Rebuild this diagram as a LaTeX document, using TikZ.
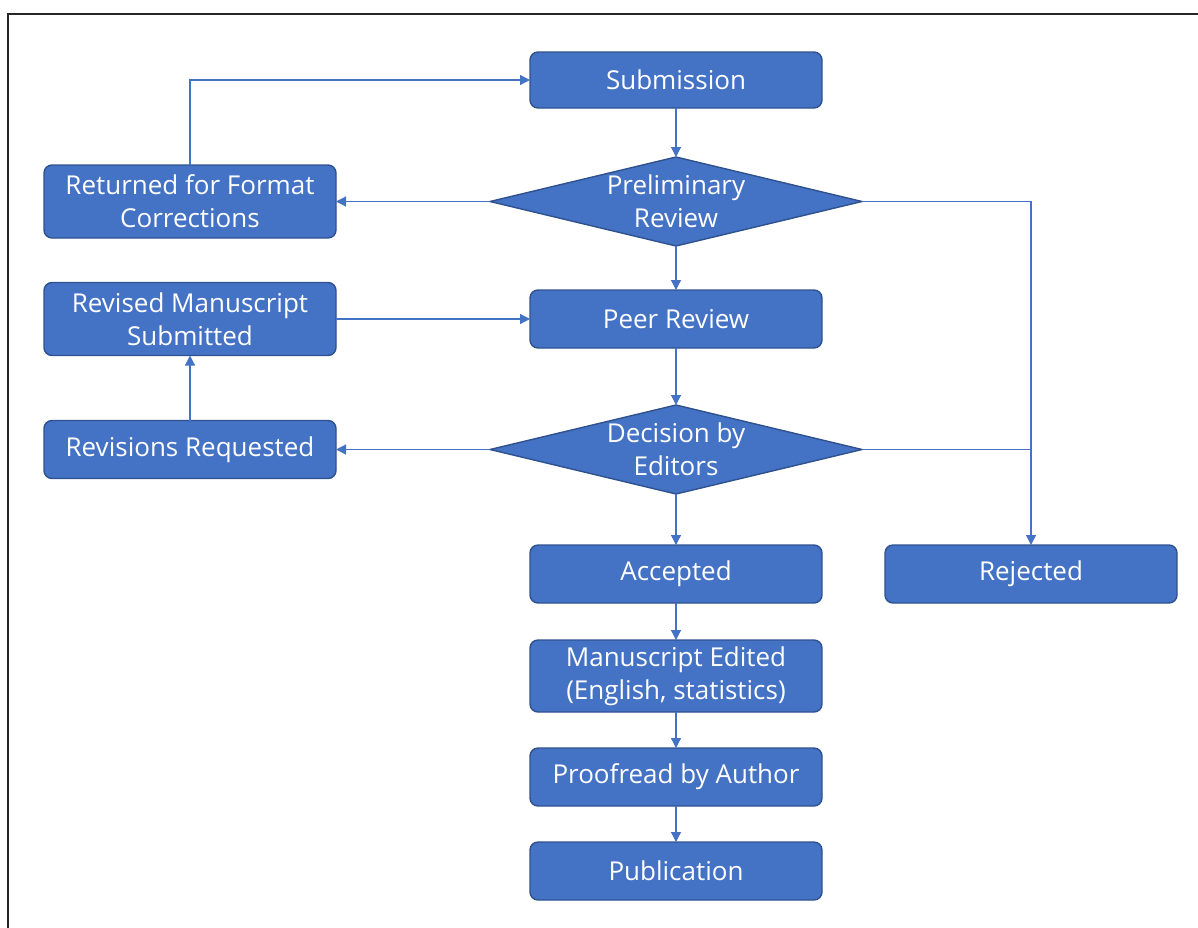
\documentclass[tikz,border=0pt]{standalone}
\usepackage{fontspec}
\setmainfont{Open Sans}
\usepackage{tikz}
\usetikzlibrary{positioning, arrows.meta}
\usetikzlibrary{shapes,shapes.geometric}

\definecolor{boxblue}{HTML}{4472C4}
\definecolor{boxedge}{HTML}{2F528F}

\tikzset{
	stagebox/.style={rectangle, rounded corners=8pt, draw=boxedge, line width=1.4pt, fill=boxblue,
		text=white, align=center, minimum width=292pt, minimum height=58pt, inner sep=2pt, outer sep=0pt,
		font=\fontsize{26}{33}\selectfont},
	decide/.style={diamond, draw=boxedge, line width=1.4pt, fill=boxblue, text=white, align=center,
		aspect=3, inner xsep=-30pt, inner ysep=-24pt, outer sep=0pt, minimum width=372pt, minimum height=89pt,
		font=\fontsize{26}{33}\selectfont},
	flow/.style={draw=boxblue, line width=1.2pt, -{Triangle[length=10pt,width=10pt]}},
	link/.style={draw=boxblue, line width=1.2pt},
}

\begin{document}
\begin{tikzpicture}[x=1pt, y=1pt, node distance=40pt]
	\useasboundingbox (0,0) rectangle (1198,-927);
	\draw[line width=2pt, black!85] (8,-940) -- (8,-14) -- (1210,-14);

	\node[stagebox, minimum height=56pt] (sub) at (676,-80) {Submission};
	\node[decide, below=49pt of sub] (pre) {Preliminary\\Review};
	\node[stagebox, left=154pt of pre, minimum height=73pt] (ret) {Returned for Format\\Corrections};
	\node[stagebox, below=44pt of pre] (peer) {Peer Review};
	\node[stagebox, left=194pt of peer, minimum height=73pt] (rev) {Revised Manuscript\\Submitted};
	\node[decide, below=57pt of peer] (dec) {Decision by\\Editors};
	\node[stagebox, left=154pt of dec] (req) {Revisions Requested};
	\node[stagebox, below=51pt of dec] (acc) {Accepted};
	\node[stagebox, right=63pt of acc] (rej) {Rejected};
	\node[stagebox, below=37pt of acc, minimum height=72pt] (edit) {Manuscript Edited\\(English, statistics)};
	\node[stagebox, below=36pt of edit] (proof) {Proofread by Author};
	\node[stagebox, below=36pt of proof] (pub) {Publication};

	\coordinate (join) at (rej.north |- dec.east);

	\draw[flow] (sub) -- (pre);
	\draw[flow] (pre) -- (ret);
	\draw[flow] (ret.north) |- (sub.west);
	\draw[flow] (pre.east) -| (rej.north);
	\draw[flow] (pre) -- (peer);
	\draw[flow] (rev) -- (peer);
	\draw[flow] (peer) -- (dec);
	\draw[flow] (dec) -- (req);
	\draw[flow] (req) -- (rev);
	\draw[link] (dec.east) -- (join);
	\draw[flow] (dec) -- (acc);
	\draw[flow] (acc) -- (edit);
	\draw[flow] (edit) -- (proof);
	\draw[flow] (proof) -- (pub);

\end{tikzpicture}
\end{document}
